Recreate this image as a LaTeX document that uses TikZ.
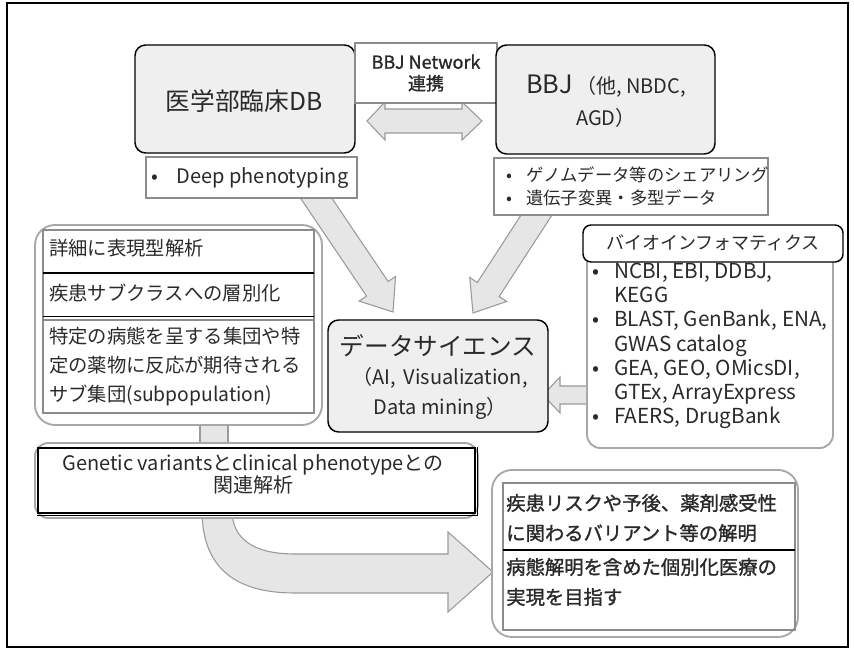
\documentclass[tikz,border=0pt]{standalone}
\usepackage{fontspec}
\setmainfont{Noto Sans CJK JP}
\newfontfamily\jpbold{Noto Sans CJK JP}[FakeBold=1.3]
\usetikzlibrary{calc}
\definecolor{boxgray}{HTML}{EFEFEF}
\definecolor{panelgray}{HTML}{A8A8A8}
\definecolor{boxline}{HTML}{8C8C8C}
\definecolor{arrowfill}{HTML}{E6E6E6}
\definecolor{arrowline}{HTML}{9A9A9A}
\definecolor{txt}{HTML}{2A2A2A}
\newcommand\setfs[2]{\fontsize{#1}{#2}\selectfont}
% #1 start, #2 tip, #3 half shaft width, #4 half head width, #5 head length
\newcommand\fatarrow[5]{%
  \path ($(#2)!#5!(#1)$) coordinate (fab);
  \filldraw[fatstyle] ($(#1)!#3!90:(#2)$) -- ($(fab)!#3!90:(#2)$) -- ($(fab)!#4!90:(#2)$) -- (#2)
     -- ($(fab)!#4!-90:(#2)$) -- ($(fab)!#3!-90:(#2)$) -- ($(#1)!#3!-90:(#2)$) -- cycle;}
\tikzset{
  graybox/.style={draw=black, line width=1.1pt, fill=boxgray, rounded corners=8pt, inner sep=0pt},
  panel/.style={draw=panelgray, line width=1.4pt, fill=white},
  plainbox/.style={draw=boxline, line width=1.1pt, fill=white, inner sep=0pt},
  fatstyle/.style={fill=arrowfill, draw=arrowline, line width=0.8pt, line join=miter},
  lbl/.style={inner sep=0pt, text=txt},
  innerline/.style={draw=boxline, line width=0.9pt},
  divider/.style={draw=black, line width=1.4pt},
}
\begin{document}
\begin{tikzpicture}[x=0.75pt,y=-0.75pt]
\useasboundingbox (0,0) rectangle (854,659);
\fill[white] (0,0) rectangle (854,659);
% outer frame
\draw[line width=1.1pt] (7,3) rectangle (848,647);

% ---- fat arrows (drawn below boxes)
\coordinate (a1s) at (310,189); \coordinate (a1t) at (393,312);
\coordinate (a2s) at (543,205); \coordinate (a2t) at (473,313);
\coordinate (a3s) at (592,395); \coordinate (a3t) at (543,395);
\fatarrow{a1s}{a1t}{9.75pt}{16.5pt}{21pt}
\fatarrow{a2s}{a2t}{9.75pt}{16.5pt}{21pt}
\fatarrow{a3s}{a3t}{6.75pt}{13.5pt}{12.75pt}
% vertical connector left panel -> genetic box
\filldraw[fatstyle] (200,420) rectangle (228,450);
% curved arrow genetic -> result
\filldraw[fatstyle] (202,510) .. controls (202,572) and (240,593) .. (295,593) -- (448,593) -- (448,612)
  -- (493,572) -- (448,532) -- (448,554) -- (295,554) .. controls (255,554) and (232,540) .. (232,510) -- cycle;
% double arrow between DBs
\filldraw[fatstyle] (367,121) -- (385,102) -- (385,109) -- (462,109) -- (462,102) -- (482,121)
  -- (462,140) -- (462,133) -- (385,133) -- (385,140) -- cycle;

% ---- top boxes
\node[graybox, minimum width=165pt, minimum height=81pt] (med) at (245,99) {};
\node[lbl, font=\setfs{18.5}{22}] (medt) at (244,101) {医学部臨床DB};
\node[plainbox, minimum width=106.5pt, minimum height=45pt] (net) at (426,73) {};
\node[lbl, align=center, font=\setfs{13.5}{16}\jpbold] (nett) at (426,73) {BBJ Network\\連携};
\node[graybox, minimum width=164.25pt, minimum height=81.75pt] (bbj) at (605.5,99.5) {};
\node[lbl, align=center, font=\setfs{15}{24}] (bbjt) at (606,101) {{\setfs{19}{24}BBJ}\,（他, NBDC,\\AGD）};

\node[plainbox, minimum width=158.25pt, minimum height=30.75pt] (deep) at (251.5,177.5) {};
\node[lbl, anchor=west, font=\setfs{15}{18}] (deept) at (151,178) {\makebox[19pt][l]{•}Deep phenotyping};
\node[plainbox, minimum width=205.5pt, minimum height=42.75pt] (bbjb) at (631,186.5) {};
\node[lbl, anchor=west, align=left, font=\setfs{13}{17.25}] (bbjbt) at (506,186) {\makebox[15pt][l]{•}ゲノムデータ等のシェアリング\\\makebox[15pt][l]{•}遺伝子変異・多型データ};

% ---- bioinformatics
\draw[panel, rounded corners=10pt] (587,262) -- (587,448) -- (833,448) -- (833,262);
\node[draw=black, line width=1.1pt, fill=white, rounded corners=6pt, minimum width=195pt, minimum height=27.75pt, inner sep=0pt] (bioh) at (713,243.5) {};
\node[lbl, font=\setfs{13.5}{16}] (biot) at (713,243) {バイオインフォマティクス};
\node[lbl, anchor=west, align=left, font=\setfs{15.5}{18.2}] (bioi) at (592,346) {%
\makebox[16.5pt][l]{•}NCBI, EBI, DDBJ,\\
\hspace*{16.5pt}KEGG\\
\makebox[16.5pt][l]{•}BLAST, GenBank, ENA,\\
\hspace*{16.5pt}GWAS catalog\\
\makebox[16.5pt][l]{•}GEA, GEO, OMicsDI,\\
\hspace*{16.5pt}GTEx, ArrayExpress\\
\makebox[16.5pt][l]{•}FAERS, DrugBank};

% ---- data science
\node[graybox, minimum width=165pt, minimum height=84pt] (ds) at (438,376) {};
\node[lbl, font=\setfs{18.5}{22}] (dst1) at (438,346) {データサイエンス};
\node[lbl, align=center, font=\setfs{15}{22.5}] (dst2) at (440,393) {（AI,\, Visualization,\\Data mining）};

% ---- left panel
\draw[panel, rounded corners=15pt] (35,225) rectangle (322,425);
\draw[innerline] (43,230) rectangle (314,413);
\draw[divider] (43,273) -- (314,273);
\draw[divider] (43,316.5) -- (314,316.5);
\draw[innerline] (43,320) -- (314,320);
\node[lbl, anchor=west, font=\setfs{14.5}{22}] (l1) at (49,248) {詳細に表現型解析};
\node[lbl, anchor=west, font=\setfs{14.5}{22}] (l2) at (49,293) {疾患サブクラスへの層別化};
\node[lbl, anchor=west, align=left, font=\setfs{14.5}{21.75}] (l3) at (49,367) {特定の病態を呈する集団や特\\定の薬物に反応が期待される\\サブ集団(subpopulation)};

% ---- genetic box
\draw[panel, rounded corners=10pt] (35,443) rectangle (478,518);
\node[draw=black, line width=1.3pt, fill=white, minimum width=327.75pt, minimum height=48.75pt, inner sep=0pt] (gen) at (256.5,480.5) {};
\draw[line width=1pt] ([xshift=1.2pt]gen.north east) -- ([xshift=1.2pt,yshift=-1.2pt]gen.south east) -- ([yshift=-1.2pt]gen.south west);
\node[lbl, align=center, font=\setfs{15}{16.5}] (gent) at (253,474) {Genetic variantsとclinical phenotypeとの\\関連解析};

% ---- result panel
\draw[panel, rounded corners=15pt] (492,470) rectangle (798,637);
\draw[innerline] (503,483) rectangle (795,630);
\draw[divider] (503,550) -- (795,550);
\node[lbl, anchor=west, align=left, font=\setfs{14.5}{22.5}\jpbold] (rb1) at (506,518) {疾患リスクや予後、薬剤感受性\\に関わるバリアント等の解明};
\node[lbl, anchor=west, align=left, font=\setfs{14.5}{22.5}\jpbold] (rb2) at (506,582) {病態解明を含めた個別化医療の\\実現を目指す};
\end{tikzpicture}
\end{document}
